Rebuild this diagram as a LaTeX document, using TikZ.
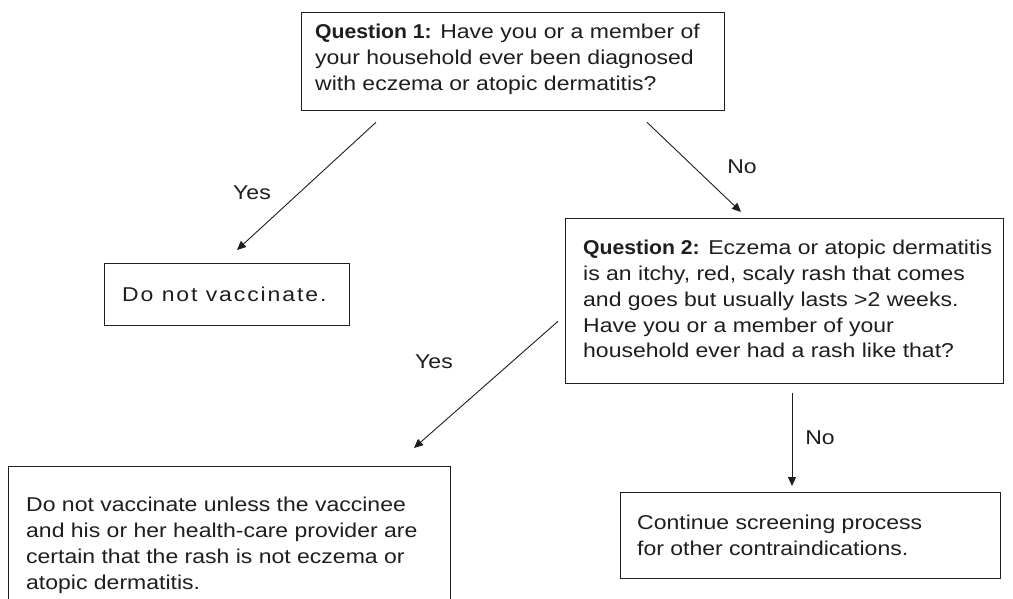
\documentclass[tikz,border=0pt]{standalone}
\usepackage{fontspec}
\setmainfont{Liberation Sans}[FakeStretch=1.15,BoldFeatures={FakeStretch=1.06}]
\usetikzlibrary{arrows.meta,calc}
\definecolor{ink}{HTML}{1E1E1E}
\begin{document}
\begin{tikzpicture}[x=1pt,y=-1pt,
  box/.style={draw=ink,line width=1.3pt,inner sep=0pt,anchor=north west},
  txt/.style={inner sep=0pt,anchor=north west,align=left,font=\fontsize{20}{25.8}\selectfont,text=ink},
  lbl/.style={inner sep=0pt,font=\fontsize{20}{24}\selectfont,text=ink},
  arr/.style={draw=ink,line width=0.9pt,-{Triangle[length=9pt,width=8pt]}}]
\useasboundingbox (0,0) rectangle (1013,599);
\fill[white] (0,0) rectangle (1013,599);
% boxes
\node[box,minimum width=423pt,minimum height=98pt] (q1) at (301,12) {};
\node[box,minimum width=438pt,minimum height=165pt] (q2) at (565,218) {};
\node[box,minimum width=245pt,minimum height=62pt] (y1) at (104,263) {};
\node[box,minimum width=442pt,minimum height=150pt] (y2) at (8,466) {};
\node[box,minimum width=380pt,minimum height=86pt] (c2) at (620,492) {};
% texts
\node[txt] (q1t) at (315,24) {\textbf{Question 1:} Have you or a member of\\your household ever been diagnosed\\with eczema or atopic dermatitis?};
\node[txt] (y1t) at (122,287) {\addfontfeatures{LetterSpace=9.5}Do not vaccinate.};
\node[txt] (q2t) at (583,240) {\textbf{Question 2:} Eczema or atopic dermatitis\\is an itchy, red, scaly rash that comes\\and goes but usually lasts >2 weeks.\\Have you or a member of your\\household ever had a rash like that?};
\node[txt] (y2t) at (26,497) {Do not vaccinate unless the vaccinee\\and his or her health-care provider are\\certain that the rash is not eczema or\\atopic dermatitis.};
\node[txt] (c2t) at (637,515) {Continue screening process\\for other contraindications.};
% connectors
\draw[arr] ($(q1.south west)+(75,11)$) -- ($(y1.north west)+(133,-13)$);
\draw[arr] ($(q1.south west)+(346,11)$) -- ($(q2.north west)+(176,-6)$);
\draw[arr] ($(q2.south west)+(-7,-63)$) -- ($(y2.north west)+(406,-18)$);
\draw[arr] ($(q2.south west)+(227,9)$) -- ($(c2.north west)+(172,-6)$);
% labels
\node[lbl] (l1) at (252,193) {Yes};
\node[lbl] (l2) at (742,167) {No};
\node[lbl] (l3) at (434,362) {Yes};
\node[lbl] (l4) at (820,438) {No};
\end{tikzpicture}
\end{document}
